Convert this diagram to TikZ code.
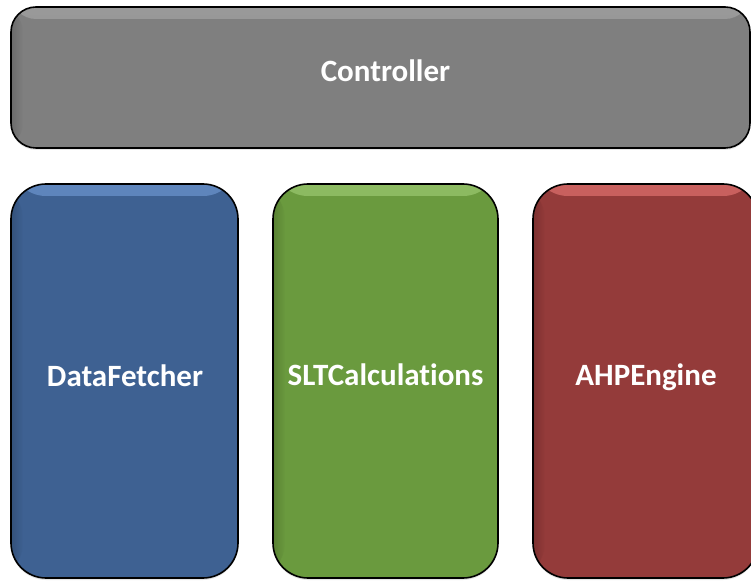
\documentclass[tikz,border=0pt]{standalone}
\usepackage{fontspec}
\setmainfont[Ligatures={NoCommon}]{Carlito}
\usetikzlibrary{shadows}
\definecolor{ctrlgray}{HTML}{7F7F7F}
\definecolor{ctrllight}{HTML}{9A9A9A}
\definecolor{dfblue}{HTML}{3E6192}
\definecolor{dflight}{HTML}{5F86BD}
\definecolor{sltgreen}{HTML}{6A9A3E}
\definecolor{sltlight}{HTML}{8DBB62}
\definecolor{ahpred}{HTML}{943B3A}
\definecolor{ahplight}{HTML}{C9615F}
\tikzset{
  module/.style n args={3}{draw=black, line width=1.6pt, rounded corners=#3,
    fill=#1, inner sep=0pt,
    drop shadow={opacity=0.2, shadow xshift=0pt, shadow yshift=-2pt},
    path picture={
      \shade[top color=#2, bottom color=#1]
        (path picture bounding box.north west) rectangle
        ([yshift=-12pt]path picture bounding box.north east);
      \shade[left color=black!35!#1, right color=#1, opacity=0.45]
        (path picture bounding box.north west) rectangle
        ([xshift=12pt]path picture bounding box.south west);
    }},
  label/.style={text=white, font=\bfseries\fontsize{31}{36}\selectfont, anchor=base, inner sep=0pt},
}
\begin{document}
\begin{tikzpicture}[x=1pt,y=1pt]
  \useasboundingbox (0,0) rectangle (751,581);
  \begin{scope}
  \clip (0,0) rectangle (751,581);
  \node[module={ctrlgray}{ctrllight}{25pt}, minimum width=739pt, minimum height=141pt]
    (controller) at (380.5,503.5) {};
  \node[label] (controllertext) at (385.5,499.5) {Controller};
  \node[module={dfblue}{dflight}{35pt}, minimum width=227pt, minimum height=394pt]
    (datafetcher) at (124.5,200) {};
  \node[label] (datafetchertext) at (125,195) {DataFetcher};
  \node[module={sltgreen}{sltlight}{35pt}, minimum width=225pt, minimum height=394pt]
    (slt) at (385.5,200) {};
  \node[label] (slttext) at (385.5,195.5) {SLTCalculations};
  \node[module={ahpred}{ahplight}{35pt}, minimum width=225pt, minimum height=394pt]
    (ahp) at (645.5,200) {};
  \node[label] (ahptext) at (646,196) {AHPEngine};
  \end{scope}
\end{tikzpicture}
\end{document}
